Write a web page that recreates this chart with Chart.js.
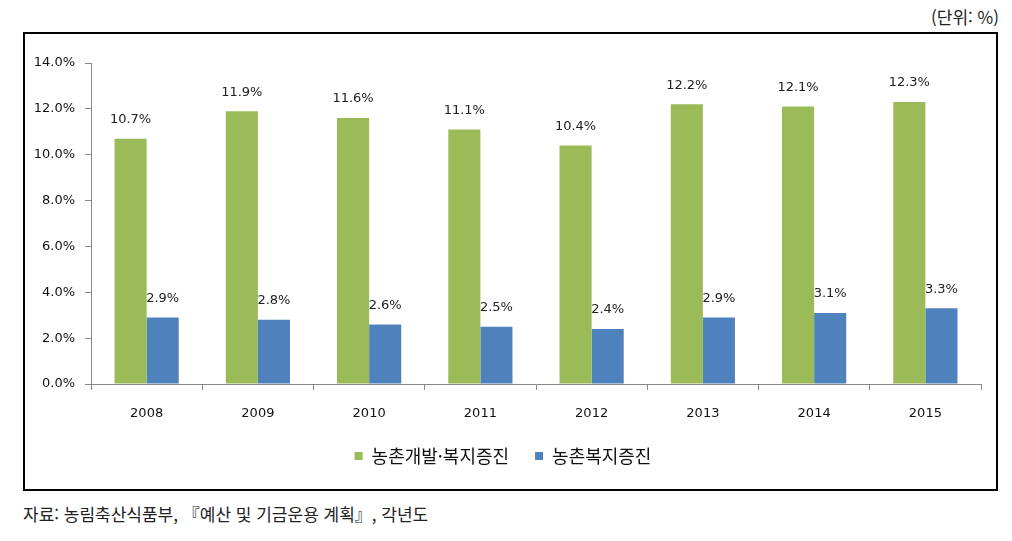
<!DOCTYPE html>
<html lang="ko">
<head>
<meta charset="utf-8">
<title>농촌개발·복지증진 비중</title>
<script src="https://cdn.jsdelivr.net/npm/chart.js@4/dist/chart.umd.min.js"></script>
<style>
  body { margin: 0; background: #fff; width: 1012px; height: 541px; position: relative; overflow: hidden; }
  .unit { position: absolute; right: 13px; top: 4px; font: 17px "Noto Sans CJK KR", sans-serif; color: #222; }
  .box { position: absolute; left: 23px; top: 32px; width: 971px; height: 455px; border: 2px solid #000; }
  .source { position: absolute; left: 23px; top: 501px; font: 17px "Noto Sans CJK KR", sans-serif; color: #222; }
</style>
</head>
<body>
<div class="unit">(단위: %)</div>
<div class="box"><canvas id="chart" width="971" height="455"></canvas></div>
<div class="source">자료: 농림축산식품부, 『예산 및 기금운용 계획』, 각년도</div>
<script>
const years = ['2008', '2009', '2010', '2011', '2012', '2013', '2014', '2015'];
const devWelfare = [10.7, 11.9, 11.6, 11.1, 10.4, 12.2, 12.1, 12.3];
const welfare = [2.9, 2.8, 2.6, 2.5, 2.4, 2.9, 3.1, 3.3];
const seriesNames = ['농촌개발·복지증진', '농촌복지증진'];

const numFont = { family: 'DejaVu Sans', size: 13 };

// 막대 위 값 표시
const valueLabels = {
  id: 'valueLabels',
  afterDatasetsDraw(chart) {
    const ctx = chart.ctx;
    ctx.save();
    ctx.font = '13px "DejaVu Sans"';
    ctx.fillStyle = '#222';
    ctx.textAlign = 'center';
    ctx.textBaseline = 'middle';
    chart.data.datasets.forEach((ds, i) => {
      chart.getDatasetMeta(i).data.forEach((bar, j) => {
        ctx.fillText(ds.data[j].toFixed(1) + '%', bar.x, bar.y - 19);
      });
    });
    ctx.restore();
  }
};

new Chart(document.getElementById('chart'), {
  type: 'bar',
  data: {
    labels: years,
    datasets: [
      { label: seriesNames[0], data: devWelfare, backgroundColor: '#9BBB59' },
      { label: seriesNames[1], data: welfare, backgroundColor: '#4F81BD' }
    ]
  },
  options: {
    responsive: false,
    animation: false,
    categoryPercentage: 0.577,
    barPercentage: 1,
    layout: { padding: { left: 0, right: 15, top: 29, bottom: 14 } },
    plugins: {
      legend: {
        position: 'bottom',
        labels: {
          boxWidth: 8,
          boxHeight: 8,
          padding: 26,
          color: '#111',
          font: { family: 'Noto Sans CJK KR', size: 18 }
        }
      },
      tooltip: { enabled: false }
    },
    scales: {
      x: {
        grid: { display: true, drawOnChartArea: false, tickLength: 6, color: '#888' },
        border: { color: '#888' },
        ticks: { color: '#111', font: numFont, padding: 16 },
        afterFit(scale) { scale.height = 37; }
      },
      y: {
        min: 0,
        max: 14,
        grid: { display: true, drawOnChartArea: false, tickLength: 6, color: '#888' },
        border: { color: '#888' },
        ticks: {
          stepSize: 2,
          color: '#111',
          font: numFont,
          padding: 10,
          callback: v => v.toFixed(1) + '%'
        },
        afterFit(scale) { scale.width = 66; }
      }
    }
  },
  plugins: [valueLabels]
});
</script>
</body>
</html>
